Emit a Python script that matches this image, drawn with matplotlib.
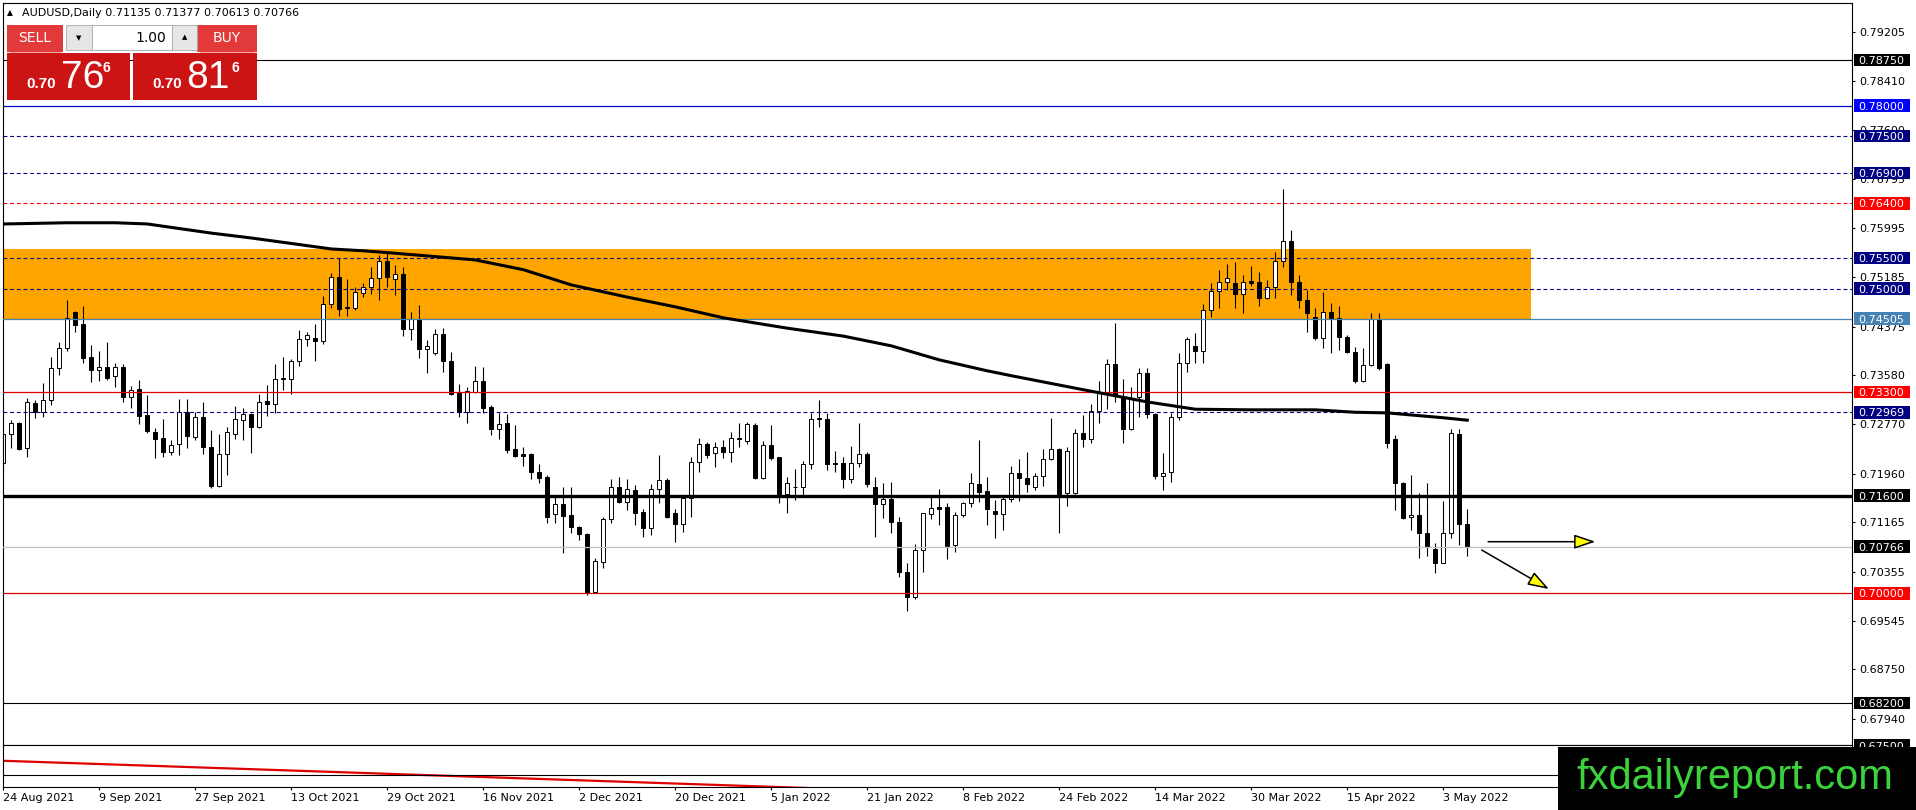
import numpy as np
import matplotlib.pyplot as plt
from matplotlib.patches import Rectangle
from matplotlib.transforms import blended_transform_factory

plt.rcParams['font.family'] = ['DejaVu Sans']

# ---------------- data ----------------
header = "AUDUSD,Daily 0.71135 0.71377 0.70613 0.70766"

date_labels = ["24 Aug 2021", "9 Sep 2021", "27 Sep 2021", "13 Oct 2021", "29 Oct 2021",
               "16 Nov 2021", "2 Dec 2021", "20 Dec 2021", "5 Jan 2022", "21 Jan 2022",
               "8 Feb 2022", "24 Feb 2022", "14 Mar 2022", "30 Mar 2022", "15 Apr 2022",
               "3 May 2022"]
label_step = 12  # one date label every 12 bars

opens = [0.72132, 0.72608, 0.72789, 0.72379, 0.73117, 0.72969, 0.73166, 0.73691, 0.74019, 0.74610,
         0.74413, 0.73872, 0.73669, 0.73713, 0.73560, 0.73713, 0.73226, 0.73346, 0.72925, 0.72641,
         0.72542, 0.72324, 0.72444, 0.72969, 0.72570, 0.72887, 0.72396, 0.71760, 0.72280, 0.72608,
         0.72838, 0.72942, 0.72734, 0.73155, 0.73100, 0.73532, 0.73510, 0.73806, 0.74167, 0.74183,
         0.74140, 0.74741, 0.75184, 0.74692, 0.74676, 0.74922, 0.75031, 0.75168, 0.75447, 0.75157,
         0.75239, 0.74331, 0.74501, 0.74003, 0.73937, 0.74249, 0.73806, 0.73292, 0.72980, 0.73308,
         0.73478, 0.73057, 0.72690, 0.72794, 0.72368, 0.72280, 0.72291, 0.71984, 0.71908, 0.71295,
         0.71459, 0.71284, 0.71082, 0.70972, 0.70021, 0.70518, 0.71213, 0.71738, 0.71503, 0.71695,
         0.71333, 0.71066, 0.71706, 0.71853, 0.71311, 0.71131, 0.71569, 0.72149, 0.72449, 0.72296,
         0.72406, 0.72324, 0.72542, 0.72504, 0.72756, 0.71897, 0.72428, 0.72231, 0.71629, 0.71738,
         0.71749, 0.72116, 0.72871, 0.72854, 0.72143, 0.72143, 0.71870, 0.72132, 0.72280, 0.71749,
         0.71459, 0.71547, 0.71164, 0.70343, 0.69933, 0.70710, 0.71295, 0.71410, 0.71410, 0.70792,
         0.71279, 0.71476, 0.71799, 0.71684, 0.71350, 0.71295, 0.71541, 0.71968, 0.71897, 0.71738,
         0.71924, 0.72198, 0.72362, 0.71640, 0.71640, 0.72624, 0.72526, 0.72991, 0.73297, 0.73757,
         0.73226, 0.72690, 0.73226, 0.73609, 0.72936, 0.71924, 0.71984, 0.72887, 0.73773, 0.74058,
         0.73981, 0.74648, 0.74960, 0.75113, 0.75086, 0.74905, 0.75124, 0.75102, 0.74840, 0.75020,
         0.75447, 0.75786, 0.75102, 0.74812, 0.74528, 0.74183, 0.74610, 0.74512, 0.74211, 0.73964,
         0.73483, 0.73740, 0.74495, 0.73757, 0.72526, 0.71804, 0.71246, 0.71284, 0.70983, 0.70721,
         0.70502, 0.70983, 0.72613, 0.71135]
highs = [0.72652, 0.72843, 0.72816, 0.73199, 0.73171, 0.73445, 0.73872, 0.74118, 0.74812, 0.74632,
         0.74714, 0.74074, 0.73975, 0.74118, 0.73784, 0.73757, 0.73407, 0.73499, 0.73253, 0.72706,
         0.72860, 0.72515, 0.73188, 0.73182, 0.72969, 0.73133, 0.72674, 0.72608, 0.72734, 0.73073,
         0.73035, 0.72953, 0.73270, 0.73412, 0.73757, 0.73872, 0.73844, 0.74320, 0.74293, 0.74419,
         0.74878, 0.75250, 0.75496, 0.75152, 0.75031, 0.75086, 0.75359, 0.75551, 0.75578, 0.75387,
         0.75359, 0.74621, 0.74730, 0.74156, 0.74337, 0.74347, 0.73954, 0.73428, 0.73390, 0.73729,
         0.73718, 0.73089, 0.72953, 0.72942, 0.72761, 0.72396, 0.72296, 0.72121, 0.71941, 0.71585,
         0.71738, 0.71749, 0.71104, 0.70994, 0.70573, 0.71257, 0.71870, 0.71902, 0.71870, 0.71777,
         0.71377, 0.71788, 0.72269, 0.71886, 0.71377, 0.71585, 0.72231, 0.72542, 0.72488, 0.72488,
         0.72515, 0.72652, 0.72789, 0.72816, 0.72799, 0.72499, 0.72761, 0.72242, 0.71913, 0.72044,
         0.72171, 0.72953, 0.73171, 0.72964, 0.72335, 0.72242, 0.72417, 0.72799, 0.72324, 0.71902,
         0.71804, 0.71831, 0.71257, 0.70502, 0.70808, 0.71322, 0.71585, 0.71711, 0.71476, 0.71339,
         0.71503, 0.71968, 0.72515, 0.71902, 0.71531, 0.71612, 0.72088, 0.72198, 0.72324, 0.71968,
         0.72362, 0.72871, 0.72379, 0.72406, 0.72690, 0.72925, 0.73106, 0.73483, 0.73839, 0.74430,
         0.73510, 0.73390, 0.73702, 0.73691, 0.72953, 0.72296, 0.72953, 0.73948, 0.74211, 0.74265,
         0.74741, 0.75086, 0.75305, 0.75398, 0.75441, 0.75223, 0.75376, 0.75277, 0.75141, 0.75606,
         0.76628, 0.75961, 0.75223, 0.74977, 0.74676, 0.74949, 0.74769, 0.74714, 0.74238, 0.74047,
         0.74019, 0.74594, 0.74605, 0.73784, 0.72597, 0.71831, 0.71941, 0.71651, 0.71815, 0.70819,
         0.71514, 0.72690, 0.72690, 0.71377]
lows = [0.72023, 0.72379, 0.72351, 0.72242, 0.72871, 0.72898, 0.73089, 0.73582, 0.73975, 0.74293,
        0.73773, 0.73472, 0.73488, 0.73499, 0.73390, 0.73144, 0.73035, 0.72772, 0.72624, 0.72225,
        0.72242, 0.72269, 0.72269, 0.72390, 0.72515, 0.72280, 0.71733, 0.71749, 0.71941, 0.72531,
        0.72515, 0.72296, 0.72706, 0.72909, 0.72953, 0.73335, 0.73264, 0.73729, 0.74058, 0.73817,
        0.74096, 0.74676, 0.74555, 0.74555, 0.74648, 0.74867, 0.74911, 0.74812, 0.75031, 0.74894,
        0.74222, 0.74156, 0.73855, 0.73620, 0.73910, 0.73636, 0.73248, 0.72898, 0.72789, 0.73281,
        0.72953, 0.72597, 0.72526, 0.72296, 0.72242, 0.72094, 0.71870, 0.71815, 0.71158, 0.71158,
        0.70655, 0.70983, 0.70874, 0.69971, 0.70010, 0.70420, 0.71158, 0.71476, 0.71366, 0.71120,
        0.70929, 0.70956, 0.71487, 0.71229, 0.70847, 0.71011, 0.71246, 0.71984, 0.72214, 0.72077,
        0.72214, 0.72160, 0.72406, 0.72449, 0.71870, 0.71880, 0.72187, 0.71476, 0.71322, 0.71531,
        0.71585, 0.72033, 0.72734, 0.72023, 0.71984, 0.71733, 0.71804, 0.72077, 0.71738, 0.70929,
        0.71240, 0.70983, 0.70272, 0.69709, 0.69900, 0.70354, 0.71213, 0.71120, 0.70557, 0.70682,
        0.71257, 0.71421, 0.71503, 0.71120, 0.70901, 0.71038, 0.71503, 0.71520, 0.71667, 0.71695,
        0.71760, 0.72187, 0.70983, 0.71438, 0.71629, 0.72406, 0.72460, 0.72799, 0.73018, 0.73144,
        0.72471, 0.72679, 0.72898, 0.72871, 0.71875, 0.71695, 0.71831, 0.72843, 0.73636, 0.73773,
        0.73784, 0.74528, 0.74676, 0.74977, 0.74687, 0.74594, 0.75042, 0.74714, 0.74829, 0.74840,
        0.75348, 0.74894, 0.74676, 0.74293, 0.74156, 0.74019, 0.73948, 0.73992, 0.73937, 0.73456,
        0.73461, 0.73729, 0.73664, 0.72379, 0.71366, 0.71213, 0.71038, 0.70584, 0.70611, 0.70327,
        0.70491, 0.70912, 0.70792, 0.70613]
closes = [0.72608, 0.72789, 0.72368, 0.73144, 0.72969, 0.73166, 0.73691, 0.74019, 0.74522, 0.74402,
          0.73866, 0.73669, 0.73713, 0.73538, 0.73713, 0.73226, 0.73341, 0.72914, 0.72663, 0.72537,
          0.72324, 0.72428, 0.72969, 0.72581, 0.72887, 0.72396, 0.71760, 0.72280, 0.72652, 0.72854,
          0.72942, 0.72734, 0.73144, 0.73100, 0.73510, 0.73510, 0.73806, 0.74167, 0.74233, 0.74140,
          0.74741, 0.75184, 0.74665, 0.74676, 0.74938, 0.75031, 0.75168, 0.75447, 0.75195, 0.75239,
          0.74331, 0.74501, 0.74003, 0.74052, 0.74249, 0.73806, 0.73270, 0.72980, 0.73324, 0.73478,
          0.73046, 0.72690, 0.72783, 0.72351, 0.72258, 0.72258, 0.71984, 0.71897, 0.71246, 0.71459,
          0.71273, 0.71082, 0.70967, 0.70010, 0.70535, 0.71213, 0.71738, 0.71503, 0.71716, 0.71322,
          0.71066, 0.71706, 0.71853, 0.71246, 0.71131, 0.71569, 0.72149, 0.72449, 0.72269, 0.72406,
          0.72324, 0.72542, 0.72526, 0.72777, 0.71897, 0.72428, 0.72225, 0.71629, 0.71815, 0.71749,
          0.72116, 0.72854, 0.72854, 0.72116, 0.72121, 0.71870, 0.72132, 0.72280, 0.71788, 0.71459,
          0.71547, 0.71164, 0.70343, 0.69933, 0.70710, 0.71311, 0.71394, 0.71388, 0.70775, 0.71279,
          0.71476, 0.71815, 0.71667, 0.71377, 0.71295, 0.71541, 0.71968, 0.71886, 0.71793, 0.71924,
          0.72198, 0.72362, 0.71623, 0.72340, 0.72635, 0.72526, 0.72991, 0.73297, 0.73757, 0.73253,
          0.72690, 0.73199, 0.73609, 0.72936, 0.71924, 0.71968, 0.72887, 0.73773, 0.74167, 0.73981,
          0.74648, 0.74960, 0.75113, 0.75168, 0.74905, 0.75113, 0.75097, 0.74840, 0.75020, 0.75447,
          0.75786, 0.75102, 0.74812, 0.74605, 0.74183, 0.74610, 0.74522, 0.74200, 0.73964, 0.73483,
          0.73740, 0.74495, 0.73691, 0.72460, 0.71804, 0.71240, 0.71284, 0.70983, 0.70765, 0.70502,
          0.70983, 0.72624, 0.71131, 0.70766]

# long moving average (read at a set of bars)
ma_bars = [0, 8, 14, 18, 26, 31, 41, 45, 48, 59, 65, 71, 78, 84, 90, 98, 105, 111, 117,
           123, 126, 135, 143, 149, 156, 164, 169, 173, 180, 183]
ma_vals = [0.7606, 0.7608, 0.7608, 0.7606, 0.7591, 0.7583, 0.7565, 0.7562, 0.7559, 0.7547,
           0.7531, 0.7506, 0.7486, 0.7470, 0.7452, 0.7435, 0.7422, 0.7406, 0.7383, 0.7365,
           0.7357, 0.7334, 0.7314, 0.7302, 0.7301, 0.7301, 0.7297, 0.7296, 0.7288, 0.7284]

# supply zone
zone_top, zone_bottom, zone_end = 0.7565, 0.74505, 191

# horizontal levels
level_prices = [0.78750, 0.78000, 0.77500, 0.76900, 0.76400, 0.75500, 0.75000, 0.74505,
                0.73300, 0.72969, 0.71600, 0.70766, 0.70000, 0.68200]
level_colors = ['black', '#0000c0', '#000080', '#000080', '#ff0000', '#000080', '#000080',
                '#4682b4', '#d80000', '#000080', 'black', '#c0c0c0', '#d80000', 'black']
level_widths = [0.8, 0.9, 0.8, 0.8, 0.8, 0.8, 0.8, 0.9, 0.9, 0.8, 2.4, 0.9, 0.9, 0.8]
level_dashed = [False, False, True, True, True, True, True, False, False, True, False, False,
                False, False]

# coloured price tags on the right scale
tag_prices = level_prices + [0.67500]
tag_colors = ['black', '#0000ff', '#000080', '#000080', '#ff0000', '#000080', '#000080',
              '#4682b4', '#ff0000', '#000080', 'black', 'black', '#ff0000', 'black', 'black']

# plain price scale
scale_ticks = [0.79205, 0.78410, 0.77600, 0.76795, 0.75995, 0.75185, 0.74375, 0.73580,
               0.72770, 0.71960, 0.71165, 0.70355, 0.69545, 0.68750, 0.67940]

# projection arrows (bar, price)
arrow_from = [(185.6, 0.70846), (184.8, 0.70710)]
arrow_to = [(199.0, 0.70846), (193.2, 0.70070)]

# lower indicator window
sub_level = 0.275
red_bars = [0, 120]
red_vals = [0.626, -0.159]

# ---------------- figure ----------------
W, H = 1916, 810
fig = plt.figure(figsize=(W / 100, H / 100), dpi=100, facecolor='white')


def box(x0, y0, x1, y1):
    return [x0 / W, 1 - y1 / H, (x1 - x0) / W, (y1 - y0) / H]


ax = fig.add_axes(box(3, 2.7, 1852, 745.3))
sub = fig.add_axes(box(3, 745.3, 1852, 786.7))

n = len(opens)
idx = np.arange(n)
o = np.array(opens)
c = np.array(closes)
hi = np.array(highs)
lo = np.array(lows)

# zone
ax.add_patch(Rectangle((-5, zone_bottom), zone_end + 5, zone_top - zone_bottom,
                       facecolor='#ffa500', edgecolor='none', zorder=0.5))

# candles
ax.vlines(idx, lo, hi, color='black', lw=0.8, zorder=2)
up = c >= o
ax.bar(idx[up], (c - o)[up], bottom=o[up], width=0.5, color='white',
       edgecolor='black', linewidth=0.7, zorder=2.1)
ax.bar(idx[~up], (o - c)[~up], bottom=c[~up], width=0.5, color='black',
       edgecolor='black', linewidth=0.7, zorder=2.1)

# levels
for p, col, lw, d in zip(level_prices, level_colors, level_widths, level_dashed):
    if d:
        ax.axhline(p, color=col, lw=lw, dashes=(3.5, 2.5), zorder=3)
    else:
        ax.axhline(p, color=col, lw=lw, zorder=3)

# moving average
ax.plot(ma_bars, ma_vals, color='black', lw=2.2, zorder=4, solid_joinstyle='round')

# arrows
for (x0, y0), (x1, y1) in zip(arrow_from, arrow_to):
    ax.annotate('', xy=(x1, y1), xytext=(x0, y0), annotation_clip=False, zorder=7,
                arrowprops=dict(arrowstyle='-|>,head_length=0.65,head_width=0.22',
                                facecolor='#ffff00', edgecolor='black', lw=1.1,
                                mutation_scale=20, shrinkA=0, shrinkB=0))

ax.set_xlim(-0.04, 231.09)
ax.set_ylim(0.67505, 0.79691)
ax.set_xticks([])
ax.yaxis.tick_right()
ax.set_yticks(scale_ticks)
ax.set_yticklabels([f"{v:.5f}" for v in scale_ticks])
ax.tick_params(axis='y', length=2.5, pad=2.5, labelsize=8, width=0.8, colors='black')
for s in ax.spines.values():
    s.set_linewidth(0.8)
    s.set_color('black')

# price tags
blend = blended_transform_factory(ax.transAxes, ax.transData)
half = 0.00103
for p, col in zip(tag_prices, tag_colors):
    ax.add_patch(Rectangle((1.0011, p - half), 0.0303, 2 * half, transform=blend,
                           facecolor=col, edgecolor='none', clip_on=False, zorder=5))
    ax.text(1.0036, p, f"{p:.5f}", transform=blend, color='white', fontsize=8,
            ha='left', va='center_baseline', clip_on=False, zorder=6)

# lower window
sub.plot(red_bars, red_vals, color='#dd0000', lw=1.6)
sub.axhline(sub_level, color='black', lw=0.8)
sub.set_xlim(-0.04, 231.09)
sub.set_ylim(0, 1)
sub.set_yticks([])
tick_pos = [k * label_step for k in range(len(date_labels))]
sub.set_xticks(tick_pos)
sub.set_xticklabels(date_labels)
sub.tick_params(axis='x', length=2.2, pad=2.2, labelsize=8, width=0.8)
for lab in sub.get_xticklabels():
    lab.set_horizontalalignment('left')
for s in sub.spines.values():
    s.set_linewidth(0.8)

# ---------------- overlays: trade panel, header, watermark ----------------
ov = fig.add_axes([0, 0, 1, 1])
ov.set_xlim(0, W)
ov.set_ylim(H, 0)
ov.axis('off')
ov.set_zorder(10)

ov.text(7, 13, "\u25b2", fontsize=5.5, va='center', ha='left', color='black')
ov.text(22, 13, header, fontsize=8, va='center', ha='left', color='black')

ov.add_patch(Rectangle((7, 25), 56, 27, facecolor='#e23a3a', edgecolor='none'))
ov.add_patch(Rectangle((197, 25), 60, 27, facecolor='#e23a3a', edgecolor='none'))
ov.add_patch(Rectangle((66, 25), 26, 25, facecolor='#e6e6e6', edgecolor='#a8a8a8', lw=0.6))
ov.add_patch(Rectangle((92, 25), 80, 25, facecolor='white', edgecolor='#a8a8a8', lw=0.6))
ov.add_patch(Rectangle((172, 25), 25, 25, facecolor='#e6e6e6', edgecolor='#a8a8a8', lw=0.6))
ov.add_patch(Rectangle((7, 53), 123, 47, facecolor='#cc1414', edgecolor='none'))
ov.add_patch(Rectangle((133, 53), 124, 47, facecolor='#cc1414', edgecolor='none'))
ov.plot([10, 60], [51.5, 51.5], color='#f2a0a0', lw=0.8)
ov.plot([200, 254], [51.5, 51.5], color='#f2a0a0', lw=0.8)

ov.text(35, 38, "SELL", color='white', fontsize=10, ha='center', va='center')
ov.text(227, 38, "BUY", color='white', fontsize=10, ha='center', va='center')
ov.text(79, 38, "\u25bc", color='black', fontsize=5, ha='center', va='center')
ov.text(184.5, 37, "\u25b2", color='black', fontsize=5, ha='center', va='center')
ov.text(166, 38, "1.00", color='black', fontsize=10, ha='right', va='center')

big = dict(color='white', family='Liberation Sans', va='baseline', ha='left')
ov.text(26, 88, "0.70", fontsize=11, weight='bold', **big)
ov.text(61, 88, "76", fontsize=28, **big)
ov.text(103, 72, "6", fontsize=10, weight='bold', **big)
ov.text(152, 88, "0.70", fontsize=11, weight='bold', **big)
ov.text(186, 88, "81", fontsize=28, **big)
ov.text(232, 72, "6", fontsize=10, weight='bold', **big)

ov.add_patch(Rectangle((1558, 747), 358, 63, facecolor='black', edgecolor='none'))
ov.text(1576, 789, "fxdailyreport.com", color='#3cd23c', family='Liberation Sans',
        fontsize=30, ha='left', va='baseline')

fig.savefig("out.png", dpi=100, facecolor='white')
